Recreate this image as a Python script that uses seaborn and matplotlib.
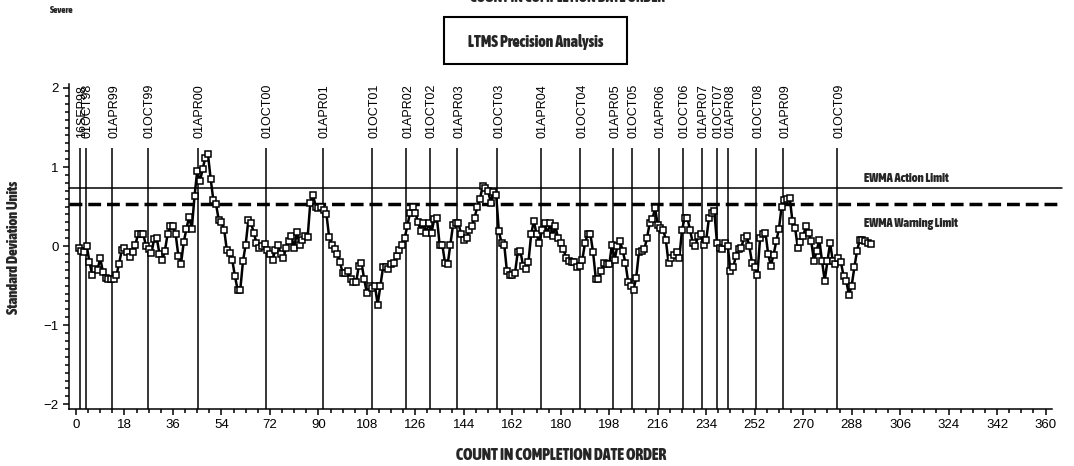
import numpy as np
import pandas as pd
import matplotlib
matplotlib.use("Agg")
import matplotlib.pyplot as plt
import matplotlib.transforms as mtransforms
from matplotlib.ticker import MultipleLocator, FixedLocator
from matplotlib.patches import Rectangle
from matplotlib import font_manager
from matplotlib.font_manager import FontProperties
import seaborn as sns

# ---------------- data ----------------
ewma = [
    -0.03, -0.06, -0.08, 0.00, -0.20, -0.36, -0.29, -0.30, -0.15, -0.33,
    -0.40, -0.42, -0.42, -0.41, -0.37, -0.22, -0.05, -0.02, -0.07, -0.14,
    -0.07, 0.01, 0.15, 0.15, 0.15, 0.00, -0.04, -0.09, 0.09, 0.10,
    -0.10, -0.18, -0.06, 0.15, 0.25, 0.25, 0.15, -0.12, -0.22, 0.05,
    0.22, 0.37, 0.22, 0.63, 0.95, 0.82, 0.97, 1.12, 1.16, 0.85,
    0.58, 0.53, 0.33, 0.30, 0.21, -0.05, -0.09, -0.17, -0.38, -0.55,
    -0.55, -0.19, 0.02, 0.33, 0.29, 0.17, 0.04, -0.02, 0.00, 0.03,
    -0.05, -0.10, -0.17, -0.05, 0.02, -0.10, -0.15, -0.02, 0.06, 0.13,
    -0.03, 0.18, 0.02, 0.08, 0.13, 0.11, 0.55, 0.65, 0.50, 0.48,
    0.50, 0.46, 0.40, 0.11, 0.02, -0.04, -0.10, -0.20, -0.34, -0.34,
    -0.32, -0.42, -0.46, -0.46, -0.25, -0.21, -0.42, -0.59, -0.50, -0.53,
    -0.50, -0.74, -0.50, -0.27, -0.27, -0.29, -0.23, -0.21, -0.13, -0.05,
    0.02, 0.10, 0.25, 0.42, 0.49, 0.42, 0.30, 0.19, 0.29, 0.17,
    0.29, 0.17, 0.34, 0.36, 0.02, 0.02, -0.21, -0.23, 0.02, 0.27,
    0.29, 0.29, 0.15, 0.08, 0.10, 0.20, 0.25, 0.36, 0.50, 0.60,
    0.76, 0.73, 0.70, 0.55, 0.69, 0.65, 0.19, 0.04, 0.02, -0.32,
    -0.36, -0.36, -0.34, -0.08, -0.06, -0.25, -0.29, -0.20, 0.15, 0.32,
    0.15, 0.04, 0.20, 0.29, 0.15, 0.29, 0.13, 0.25, 0.10, 0.04,
    -0.04, -0.15, -0.19, -0.20, -0.20, -0.27, -0.25, -0.17, 0.04, 0.15,
    0.15, -0.08, -0.41, -0.41, -0.32, -0.21, -0.22, -0.23, 0.02, -0.17,
    0.00, 0.06, -0.06, -0.21, -0.45, -0.50, -0.55, -0.40, -0.08, -0.06,
    -0.04, 0.10, 0.29, 0.34, 0.48, 0.27, 0.23, 0.21, 0.08, -0.21,
    -0.15, -0.11, -0.08, -0.15, 0.20, 0.36, 0.36, 0.20, 0.04, 0.00,
    0.13, 0.15, 0.02, 0.08, 0.35, 0.42, 0.44, 0.04, -0.02, -0.04,
    0.04, 0.00, -0.32, -0.27, -0.13, -0.04, -0.02, 0.10, 0.13, 0.00,
    -0.21, -0.27, -0.36, 0.10, 0.15, 0.17, -0.10, -0.25, -0.11, 0.06,
    0.22, 0.50, 0.58, 0.59, 0.61, 0.32, 0.23, -0.02, 0.05, 0.13,
    0.25, 0.17, 0.06, -0.19, -0.06, 0.08, -0.19, -0.44, -0.19, 0.04,
    -0.19, -0.23, -0.15, -0.20, -0.38, -0.44, -0.62, -0.50, -0.27, -0.06,
    0.08, 0.08, 0.06, 0.04, 0.03,
]

date_labels = ["16SEP98", "01OCT98", "01APR99", "01OCT99", "01APR00", "01OCT00",
               "01APR01", "01OCT01", "01APR02", "01OCT02", "01APR03", "01OCT03",
               "01APR04", "01OCT04", "01APR05", "01OCT05", "01APR06", "01OCT06",
               "01APR07", "01OCT07", "01APR08", "01OCT08", "01APR09", "01OCT09"]
date_counts = [1.5, 3.7, 13.5, 26.6, 45.2, 70.4, 91.7, 110.0, 122.7, 131.4,
               141.5, 156.4, 172.6, 187.2, 199.5, 206.3, 216.3, 225.2, 232.4,
               237.9, 242.2, 252.5, 262.6, 282.7]

action_limit = 0.735
warning_limit = 0.53
limit_labels = ["EWMA Action Limit", "EWMA Warning Limit"]

x_ticks = list(range(0, 361, 18))
y_ticks = [-2, -1, 0, 1, 2]
y_tick_labels = ["\u22122", "\u22121", "0", "1", "2"]

df = pd.DataFrame({"count": np.arange(1, len(ewma) + 1), "ewma": ewma})

# ---------------- fonts ----------------
names = {f.name for f in font_manager.fontManager.ttflist}
regular = "Liberation Sans" if "Liberation Sans" in names else "DejaVu Sans"


def _weight(f):
    w = f.weight
    if isinstance(w, str):
        w = font_manager.weight_dict.get(w, 400)
    return w


heavy_file = None
best = -1
for f in font_manager.fontManager.ttflist:
    is_cond = ("Narrow" in f.name or "Condensed" in f.name
               or str(f.stretch) in ("condensed", "semi-condensed", "extra-condensed"))
    w = _weight(f)
    if is_cond and f.style == "normal" and w >= 600 and w > best:
        best = w
        heavy_file = f.fname
if heavy_file is None:
    heavy_file = font_manager.findfont(FontProperties(family=regular, weight="bold"))

sns.set_theme(style="ticks")
plt.rcParams["font.family"] = [regular, "DejaVu Sans"]

fig = plt.figure(figsize=(10.74, 4.66), dpi=100)
ax = fig.add_axes([0.0645, 0.1223, 0.9153, 0.6974])


def hp(size):
    return FontProperties(fname=heavy_file, size=size)


# vertical date lines
ax.vlines(date_counts, -2.06, 1.24, colors="black", linewidth=1.1, zorder=2)
for xc, lab in zip(date_counts, date_labels):
    tr = mtransforms.offset_copy(ax.transData, fig=fig, x=2, y=0, units="dots")
    ax.text(xc, 1.37, lab, rotation=90, ha="center", va="bottom",
            fontsize=9, family=regular, color="black", transform=tr)

# limit lines (extend a bit past the axis end)
ax.plot([-2.5, 366], [action_limit, action_limit], color="black", lw=1.1,
        clip_on=False, zorder=2)
ax.plot([-2.5, 366], [warning_limit, warning_limit], color="black", lw=2.5,
        ls=(0, (3.7, 1.7)), clip_on=False, zorder=2)

fitted = []
t1 = ax.text(292.5, 0.86, limit_labels[0], fontproperties=hp(8),
             ha="left", va="center")
t2 = ax.text(292.5, 0.28, limit_labels[1], fontproperties=hp(8),
             ha="left", va="center")
fitted += [(t1, 85, "w"), (t2, 94, "w")]

# EWMA series
sns.lineplot(data=df, x="count", y="ewma", ax=ax, color="black", linewidth=1.8,
             marker="s", markersize=5, markerfacecolor="white",
             markeredgecolor="black", markeredgewidth=1.1, zorder=3)

ax.set_xlim(-2.5, 362.5)
ax.set_ylim(-2.06, 2.05)
ax.xaxis.set_major_locator(FixedLocator(x_ticks))
ax.xaxis.set_minor_locator(MultipleLocator(4.5))
ax.yaxis.set_major_locator(FixedLocator(y_ticks))
ax.yaxis.set_minor_locator(MultipleLocator(0.1))
ax.set_xticklabels([str(t) for t in x_ticks])
ax.set_yticklabels(y_tick_labels)
ax.tick_params(axis="both", which="major", direction="out", length=4.5,
               width=1.1, labelsize=9.5, colors="black", pad=3)
ax.tick_params(axis="both", which="minor", direction="out", length=3,
               width=1.1, colors="black")
for s in ["top", "right"]:
    ax.spines[s].set_visible(False)
for s in ["left", "bottom"]:
    ax.spines[s].set_linewidth(1.1)
    ax.spines[s].set_color("black")
ax.set_xlabel("")
ax.set_ylabel("")
ax.grid(False)

# figure texts
tx = fig.text(0.5225, 0.0236, "COUNT IN COMPLETION DATE ORDER",
              fontproperties=hp(9), ha="center", va="center")
ttop = fig.text(0.528, 1 + 2 / 466, "COUNT IN COMPLETION DATE ORDER",
                fontproperties=hp(9), ha="center", va="center")
ty = fig.text(0.013, 0.47, "Standard Deviation Units", fontproperties=hp(10),
              rotation=90, ha="center", va="center")
ts = fig.text(0.0466, 0.9785, "Severe", fontproperties=hp(6.5),
              ha="left", va="center")
fig.patches.append(Rectangle((0.4134, 0.8627), 0.1704, 0.1009,
                             transform=fig.transFigure, fill=False,
                             edgecolor="black", linewidth=1.5))
tt = fig.text(0.4985, 0.91, "LTMS Precision Analysis", fontproperties=hp(11.5),
              ha="center", va="center")
fitted += [(tx, 209, "w"), (ttop, 195, "w"), (ty, 133, "h"), (ts, 24, "w"),
           (tt, 135, "w")]

# scale the heavy texts to the widths measured on the reference
fig.canvas.draw()
renderer = fig.canvas.get_renderer()
for _ in range(2):
    for t, target, dim in fitted:
        bb = t.get_window_extent(renderer)
        cur = bb.width if dim == "w" else bb.height
        if cur > 0:
            t.set_fontsize(t.get_fontsize() * target / cur)

fig.savefig("out.png", dpi=100)
